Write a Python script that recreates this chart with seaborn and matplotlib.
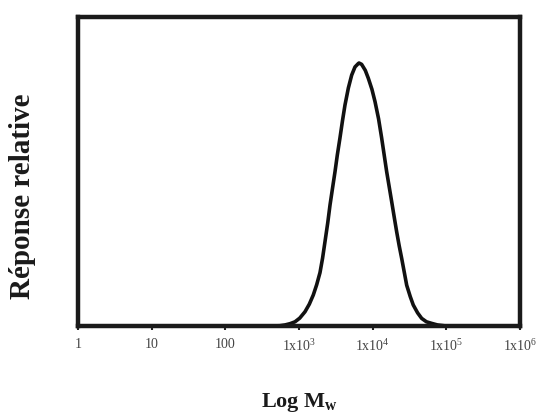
import numpy as np
import pandas as pd
import seaborn as sns
import matplotlib
matplotlib.use("Agg")
import matplotlib.pyplot as plt

# Molar-mass distribution (log10 Mw vs. normalised detector response)
log_mw = [0.0, 2.60, 2.74, 2.81, 2.88, 2.946, 3.01, 3.081, 3.14, 3.194, 3.24,
          3.285, 3.32, 3.353, 3.39, 3.421, 3.455, 3.489, 3.52, 3.556, 3.59,
          3.624, 3.67, 3.715, 3.76, 3.805, 3.815, 3.85, 3.90, 3.941, 3.99,
          4.032, 4.08, 4.122, 4.156, 4.190, 4.224, 4.258, 4.292, 4.326, 4.36,
          4.394, 4.43, 4.462, 4.51, 4.551, 4.61, 4.665, 4.73, 4.801, 4.88,
          5.00, 6.0]
response = [0.0, 0.0, 0.001, 0.004, 0.009, 0.016, 0.030, 0.054, 0.083, 0.118,
            0.157, 0.203, 0.258, 0.321, 0.392, 0.460, 0.524, 0.587, 0.650,
            0.715, 0.780, 0.840, 0.905, 0.954, 0.985, 0.998, 1.000, 0.995,
            0.972, 0.942, 0.900, 0.853, 0.788, 0.715, 0.651, 0.587, 0.530,
            0.473, 0.415, 0.358, 0.305, 0.257, 0.203, 0.155, 0.112, 0.080,
            0.050, 0.029, 0.016, 0.010, 0.004, 0.0, 0.0]

tick_pos = [0, 1, 2, 3, 4, 5, 6]
tick_labels = ["1", "10", "100", r"1x10$^3$", r"1x10$^4$", r"1x10$^5$", r"1x10$^6$"]

df = pd.DataFrame({"log_mw": log_mw, "response": response})

sns.set_theme(style="white")
plt.rcParams["font.family"] = ["Liberation Serif", "DejaVu Serif"]
plt.rcParams["mathtext.fontset"] = "custom"
plt.rcParams["mathtext.rm"] = "Liberation Serif"
plt.rcParams["mathtext.it"] = "Liberation Serif:italic"
plt.rcParams["mathtext.bf"] = "Liberation Serif:bold"

fig = plt.figure(figsize=(5.43, 4.16), dpi=100)
ax = fig.add_axes([78 / 543, 1 - 326 / 416, 442 / 543, 309 / 416])

sns.lineplot(data=df, x="log_mw", y="response", ax=ax, color="#111111",
             linewidth=2.6, sort=False)
ax.lines[0].set_solid_joinstyle("round")
ax.lines[0].set_solid_capstyle("round")

ax.set_xlim(0, 6)
ax.set_ylim(0, 1.175)
ax.set_xticks(tick_pos)
ax.set_xticklabels(tick_labels, fontsize=10, color="#444444")
ax.set_yticks([])
ax.tick_params(axis="x", direction="out", length=3, width=1.5,
               color="#222222", pad=6, bottom=True)

for s in ax.spines.values():
    s.set_visible(True)
    s.set_color("#1a1a1a")
    s.set_linewidth(3.2)

ax.set_xlabel(r"Log M$_\mathbf{w}$", fontsize=16, fontweight="bold",
              color="#1a1a1a", labelpad=26)
ax.set_ylabel("Réponse relative", fontsize=21, fontweight="bold",
              color="#1a1a1a")
ax.yaxis.set_label_coords(-0.095, 0.42)

fig.savefig("out.png", dpi=100, facecolor="white")
